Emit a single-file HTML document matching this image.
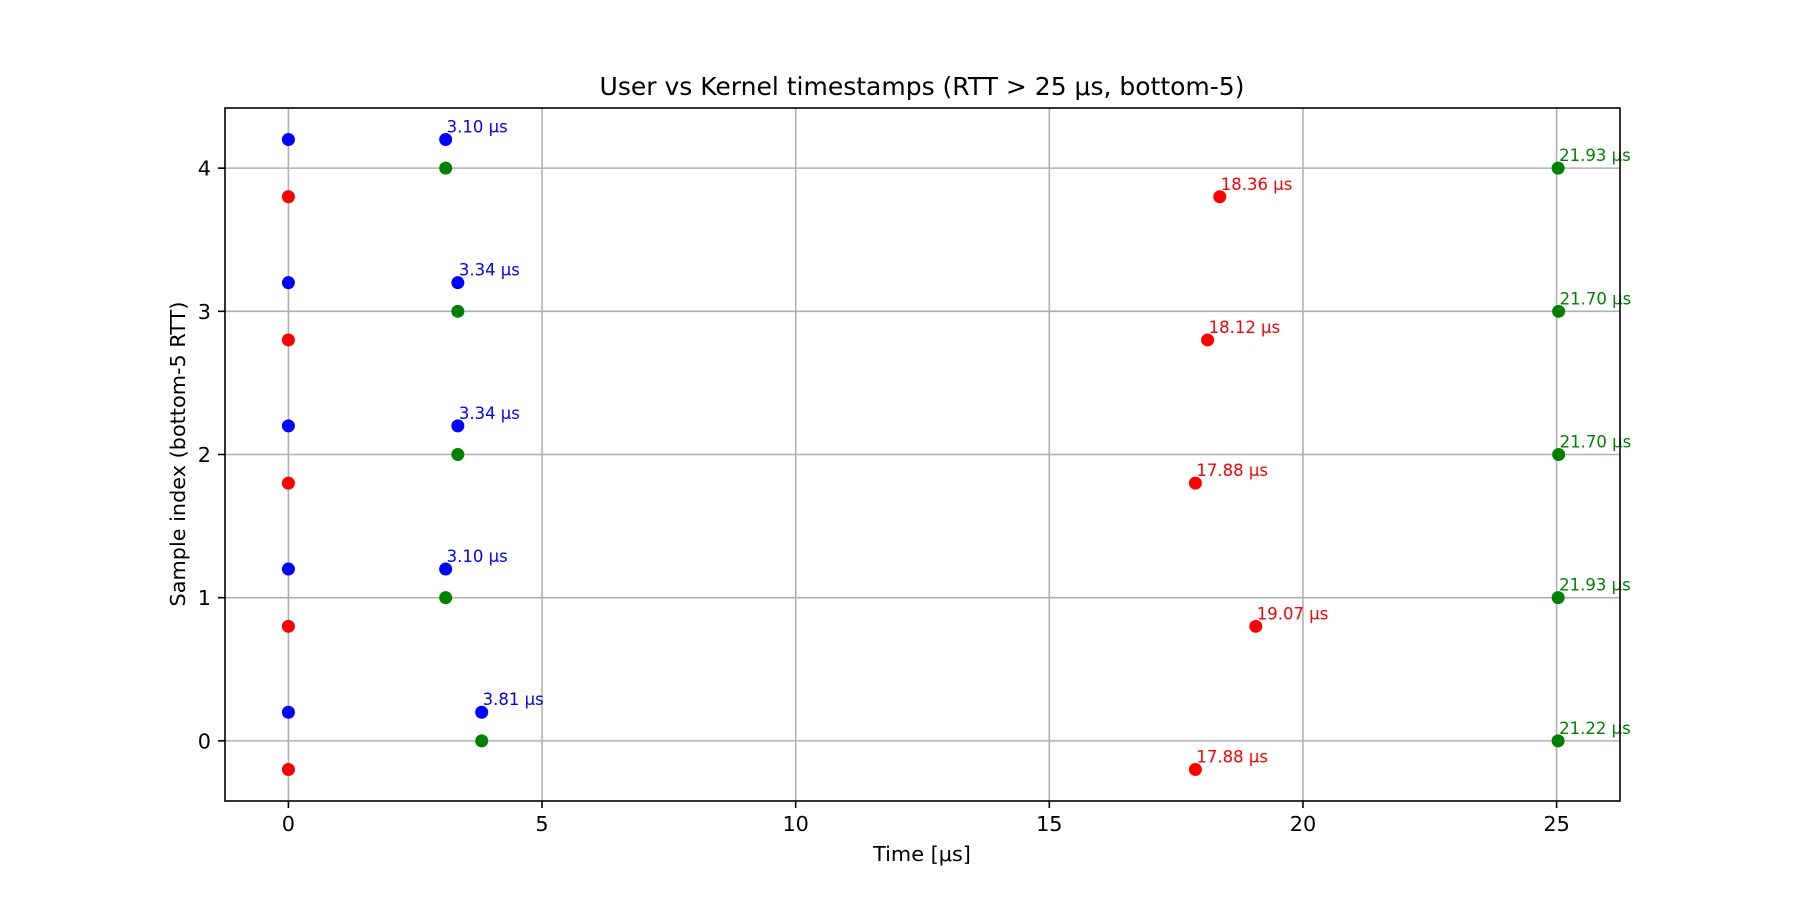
<!DOCTYPE html>
<html><head><meta charset="utf-8"><style>
html,body{margin:0;padding:0;background:#fff;}
svg text{font-family:"DejaVu Sans","Liberation Sans",sans-serif;}
</style></head><body>
<svg id="chart" width="1800" height="900" xmlns="http://www.w3.org/2000/svg">
<rect width="1800" height="900" fill="#fff"/>
<g id="grid"></g>
<g id="marks"></g>
<rect x="225" y="108" width="1395" height="693" fill="none" stroke="#000" stroke-width="1.6"/>
<g id="axes"></g>
<text x="922" y="95" font-size="25" text-anchor="middle">User vs Kernel timestamps (RTT &gt; 25 μs, bottom-5)</text>
<text x="922" y="861" font-size="20.8" text-anchor="middle">Time [μs]</text>
<text x="0" y="0" font-size="20.8" text-anchor="middle" transform="translate(185,454) rotate(-90)">Sample index (bottom-5 RTT)</text>
</svg>
<script>
const sampleIdx = [0, 1, 2, 3, 4];
const userDelta = [3.81, 3.10, 3.34, 3.34, 3.10];
const kernelRx = [17.88, 19.07, 17.88, 18.12, 18.36];
const greenDelta = [21.22, 21.93, 21.70, 21.70, 21.93];
const xTicks = [0, 5, 10, 15, 20, 25];
const yTicks = [0, 1, 2, 3, 4];

const L=225,R=1620,T=108,B=801;
const xMin=-1.25,xMax=26.25,yMin=-0.42,yMax=4.42;
const sx=v=>L+(v-xMin)/(xMax-xMin)*(R-L);
const sy=v=>B-(v-yMin)/(yMax-yMin)*(B-T);
const NS="http://www.w3.org/2000/svg";
const grid=document.getElementById('grid'),marks=document.getElementById('marks'),axes=document.getElementById('axes');
function mk(tag,attrs,parent){const e=document.createElementNS(NS,tag);for(const k in attrs)e.setAttribute(k,attrs[k]);parent.appendChild(e);return e;}

xTicks.forEach(t=>{
  const x=sx(t);
  const g=mk('line',{x1:x,x2:x,y1:T,y2:B,stroke:'#b0b0b0','stroke-width':1.6},grid);
  
  
  const tk=mk('line',{x1:x,x2:x,y1:B,y2:B+7,stroke:'#000','stroke-width':1.6},axes);
  
  
  const tl=mk('text',{x:x,y:B+30,'font-size':20.8,'text-anchor':'middle'},axes);
  tl.textContent=t;
  
  
});
yTicks.forEach(t=>{
  const y=sy(t);
  const g=mk('line',{x1:L,x2:R,y1:y,y2:y,stroke:'#b0b0b0','stroke-width':1.6},grid);
  
  
  const tk=mk('line',{x1:L-7,x2:L,y1:y,y2:y,stroke:'#000','stroke-width':1.6},axes);
  
  
  const tl=mk('text',{x:L-14,y:y+7.5,'font-size':20.8,'text-anchor':'end'},axes);
  tl.textContent=t;
  
  
});

function dot(x,y,c,name){
  const d=mk('circle',{cx:sx(x),cy:sy(y),r:6.5,fill:c},marks);
  
  
}
function label(x,y,c,txt,name){
  const t=mk('text',{x:sx(x)+1,y:sy(y)-7,'font-size':16.5,fill:c},marks);
  t.textContent=txt;
  
  
}
sampleIdx.forEach((i,k)=>{
  dot(0,i+0.2,'blue','user-send-point');
  dot(userDelta[k],i+0.2,'blue','user-recv-point');
  label(userDelta[k],i+0.2,'blue',userDelta[k].toFixed(2)+' μs','user-rtt-label');
  dot(0,i-0.2,'red','kernel-send-point');
  dot(kernelRx[k],i-0.2,'red','kernel-recv-point');
  label(kernelRx[k],i-0.2,'red',kernelRx[k].toFixed(2)+' μs','kernel-rtt-label');
  dot(userDelta[k],i,'green','gap-start-point');
  const gx=userDelta[k]+greenDelta[k];
  dot(gx,i,'green','gap-end-point');
  label(gx,i,'green',greenDelta[k].toFixed(2)+' μs','gap-label');
});
</script>
</body></html>
